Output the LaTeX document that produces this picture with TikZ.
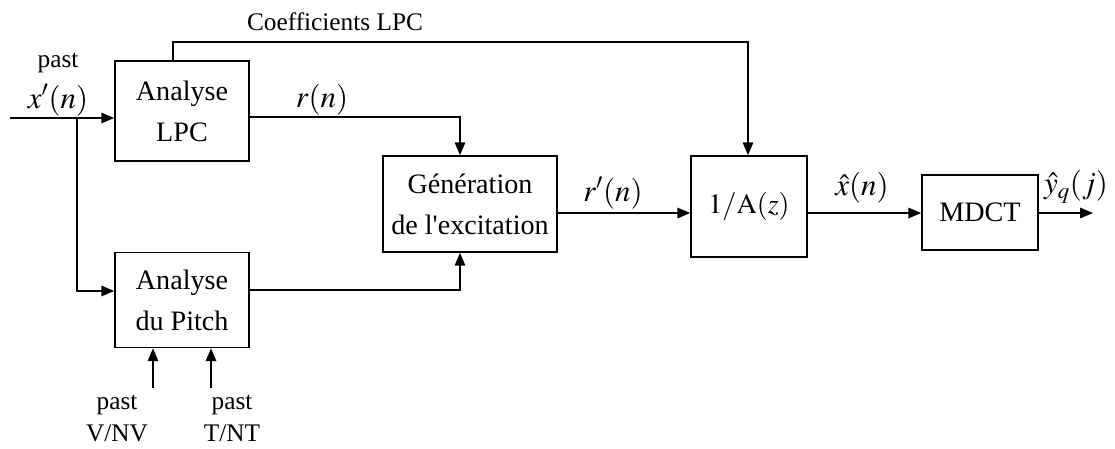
\documentclass[tikz,border=0pt]{standalone}
\usepackage{mathptmx}
\usepackage{fontspec}
\setmainfont{Liberation Serif}
\usetikzlibrary{arrows.meta,positioning,calc}
\tikzset{
>={Triangle[length=3.2mm,width=2.6mm]},
  bloc/.style={
    rectangle,
    draw=black, line width=1.1pt,
    align=center,
    inner sep=0pt,
    font=\fontsize{20}{29}\selectfont},
  lien/.style={draw, line width=1.1pt},
  fleche/.style={lien, ->},
  etiq/.style={inner sep=1pt, font=\fontsize{18}{21}\selectfont},
  sig/.style={inner sep=1pt, font=\fontsize{22}{24}\selectfont}
}

\begin{document}
\begin{tikzpicture}[x=0.025cm,y=-0.025cm]
    \useasboundingbox (0,0) rectangle (1115,448);

    % blocs
    \node[bloc, minimum width=3.35cm, minimum height=2.5cm] (lpc) at (182,111) {Analyse\\LPC};
    \node[bloc, minimum width=3.35cm, minimum height=2.375cm] (pitch) at (182,300) {Analyse\\du Pitch};
    \node[bloc, minimum width=4.35cm, minimum height=2.4cm] (excit) at (470,204) {G\'en\'eration\\de l\textquotesingle excitation};
    \node[bloc, minimum width=2.9cm, minimum height=2.525cm] (synth) at (749,206.5) {$1/\mathrm{A}(z)$};
    \node[bloc, minimum width=2.9cm, minimum height=1.875cm] (mdct) at (980,212.5) {MDCT};

    % points
    \coordinate (in) at (10,118);
    \coordinate (J) at (77,118);
    \coordinate (out) at (1093,213);
    \coordinate (vnv) at (153,388);
    \coordinate (tnt) at (211,388);

    % liaisons
    \draw[fleche] (in) -- (in -| lpc.west);
    \draw[fleche] (J) |- (0,291 -| pitch.west);
    \draw[fleche] (173,0 |- lpc.north) |- (748,42) -- (748,0 |- synth.north);
    \draw[fleche] (lpc.east |- 0,117) -| (460,0 |- excit.north);
    \draw[fleche] (pitch.east |- 0,290) -| (460,0 |- excit.south);
    \draw[fleche] (excit.east |- 0,213) -- (synth.west |- 0,213);
    \draw[fleche] (synth.east |- 0,213) -- (mdct.west |- 0,213);
    \draw[fleche] (mdct.east |- 0,213) -- (out);
    \draw[fleche] (vnv) -- (vnv |- pitch.south);
    \draw[fleche] (tnt) -- (tnt |- pitch.south);

    % etiquettes
    \node[etiq] (pastx) at (58,63) {past};
    \node[sig] (xp) at (58,100) {$x'(n)$};
    \node[etiq] (coef) at (335,22) {Coefficients LPC};
    \node[sig] (rn) at (322,100) {$r(n)$};
    \node[sig] (rpn) at (613,193) {$r'(n)$};
    \node[sig] (xh) at (862,188) {$\hat{x}(n)$};
    \node[sig] (yh) at (1076,187) {$\hat{y}_q(j)$};
    \node[etiq] (past1) at (117,405) {past};
    \node[etiq] (vnvl) at (117,433) {V/NV};
    \node[etiq] (past2) at (232,405) {past};
    \node[etiq] (tntl) at (232,433) {T/NT};
\end{tikzpicture}
\end{document}
